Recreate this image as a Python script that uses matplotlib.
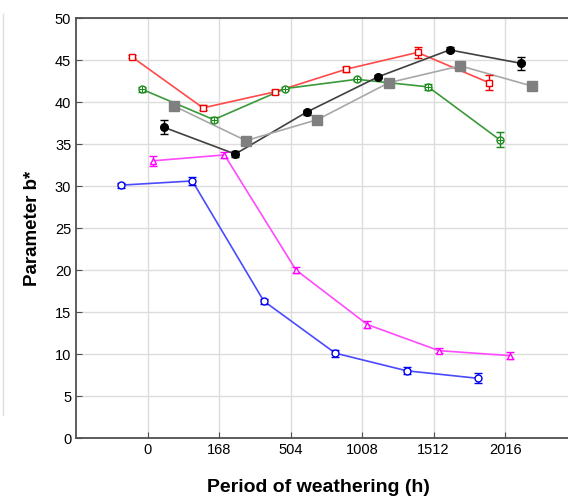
import numpy as np
import matplotlib
matplotlib.use("Agg")
import matplotlib.pyplot as plt
from matplotlib.lines import Line2D

plt.rcParams['font.family'] = ['Liberation Sans', 'DejaVu Sans']

periods = ['0', '168', '504', '1008', '1512', '2016']

# b* per sample over weathering time, with standard deviations
blue_b = [30.1, 30.6, 16.3, 10.1, 8.0, 7.1]
blue_err = [0.3, 0.5, 0.3, 0.4, 0.4, 0.6]
red_b = [45.4, 39.3, 41.2, 43.9, 45.9, 42.3]
red_err = [0.2, 0.3, 0.2, 0.3, 0.7, 0.9]
green_b = [41.5, 37.9, 41.6, 42.7, 41.8, 35.5]
green_err = [0.3, 0.3, 0.2, 0.2, 0.4, 0.9]
magenta_b = [33.0, 33.7, 20.0, 13.5, 10.4, 9.8]
magenta_err = [0.6, 0.4, 0.4, 0.4, 0.3, 0.4]
black_b = [37.0, 33.8, 38.8, 43.0, 46.2, 44.6]
black_err = [0.8, 0.4, 0.3, 0.2, 0.3, 0.8]
gray_b = [39.5, 35.4, 37.9, 42.3, 44.3, 41.9]
gray_err = [0.2, 0.2, 0.2, 0.2, 0.2, 0.2]

series = [
    # values, errors, offset, line colour, marker colour, marker, face, size
    (blue_b, blue_err, -0.375, '#4a4aff', '#0000ee', 'o', 'none', 5),
    (red_b, red_err, -0.225, '#ff4a4a', '#ee0000', 's', 'none', 5),
    (green_b, green_err, -0.075, '#3a9a3a', '#1a8a1a', 'o', 'none', 5),
    (magenta_b, magenta_err, 0.075, '#ff4aff', '#ff00ff', '^', 'none', 5),
    (black_b, black_err, 0.225, '#404040', '#000000', 'o', 'full', 5.5),
    (gray_b, gray_err, 0.375, '#a8a8a8', '#7f7f7f', 's', 'full', 6.5),
]

fig = plt.figure(figsize=(5.68, 5.00), dpi=100)
ax = fig.add_axes([0.134, 0.124, 0.9, 0.84])

x = np.arange(len(periods))
for vals, errs, off, lc, mc, mk, face, ms in series:
    xs = x + off
    ax.plot(xs, vals, color=lc, lw=1.2, zorder=2)
    ax.errorbar(xs, vals, yerr=errs, fmt='none', ecolor=mc, elinewidth=1,
                capsize=3, capthick=1, zorder=3)
    fc = mc if face == 'full' else 'white'
    ax.plot(xs, vals, linestyle='none', marker=mk, ms=ms, mec=mc, mfc=fc,
            mew=1, zorder=4)
    if mc == '#1a8a1a':
        # green markers carry a cross inside the circle
        ax.plot(xs, vals, linestyle='none', marker='+', ms=ms, mec=mc,
                mew=0.8, zorder=5)

ax.set_xlim(-1, 6.15)
ax.set_ylim(0, 50)
ax.set_xticks(x)
ax.set_xticklabels(periods)
ax.set_yticks(np.arange(0, 51, 5))
ax.grid(True, color='#dcdcdc', lw=1)
ax.set_axisbelow(True)
ax.tick_params(axis='both', labelsize=10.5, length=4, direction='in',
               color='#505050')
for side in ['left', 'bottom', 'top']:
    ax.spines[side].set_color('#505050')
    ax.spines[side].set_linewidth(1.3)
ax.spines['right'].set_visible(False)

ax.set_xlabel('Period of weathering (h)', fontsize=14, fontweight='bold')
ax.xaxis.set_label_coords(0.474, -0.098)
ax.set_ylabel('Parameter b*', fontsize=13.5, fontweight='bold', labelpad=10)

# thin frame line at the left edge
fig.add_artist(Line2D([0.005, 0.005], [0.17, 0.972], color='#e0e0e0', lw=1))

fig.savefig('out.png', dpi=100)
